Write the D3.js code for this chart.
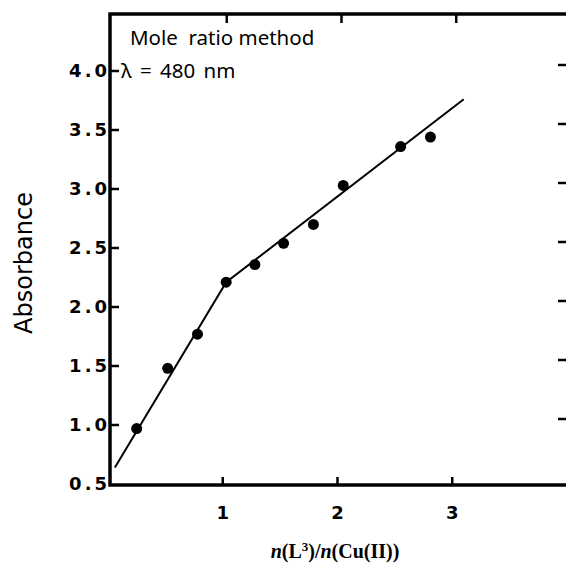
<!DOCTYPE html>
<html>
<head>
<meta charset="utf-8">
<script src="https://cdn.jsdelivr.net/npm/d3@7"></script>
<style>
  body { margin: 0; background: #fff; }
  svg { display: block; }
</style>
</head>
<body>
<svg width="566" height="573"></svg>
<script>
// Measured points (mole ratio vs absorbance)
const ratio = [0.25, 0.52, 0.78, 1.03, 1.28, 1.53, 1.79, 2.05, 2.55, 2.81];
const absorbance = [0.97, 1.48, 1.77, 2.21, 2.36, 2.54, 2.70, 3.03, 3.36, 3.44];

// Two fitted straight lines meeting at the break point
const fitX = [0.06, 1.03, 3.10];
const fitY = [0.64, 2.21, 3.76];

const xTicks = [1, 2, 3];
const yTicks = [0.5, 1.0, 1.5, 2.0, 2.5, 3.0, 3.5, 4.0];

const svg = d3.select("svg");

// plot box edges
const boxL = 110, boxR = 570, boxT = 14, boxB = 485;

const x = d3.scaleLinear().domain([0, 4.0]).range([108, 567]);
const y = d3.scaleLinear().domain([0.5, 4.0]).range([484, 71]);

const tickFont = "'DejaVu Sans', sans-serif";

// frame
svg.append("rect")
    .attr("x", boxL).attr("y", boxT)
    .attr("width", boxR - boxL).attr("height", boxB - boxT)
    .attr("fill", "none")
    .attr("stroke", "#000")
    .attr("stroke-width", 3.5);

// left axis ticks (inward) + labels
const yAxis = svg.append("g");
yAxis.selectAll("line")
    .data(yTicks.filter(d => d > 0.5))
    .enter().append("line")
    .attr("x1", boxL).attr("x2", boxL + 9)
    .attr("y1", d => y(d)).attr("y2", d => y(d))
    .attr("stroke", "#000").attr("stroke-width", 2.5);

yAxis.selectAll("text")
    .data(yTicks)
    .enter().append("text")
    .attr("x", boxL)
    .attr("y", d => y(d))
    .attr("dy", "0.36em")
    .attr("text-anchor", "end")
    .attr("font-family", tickFont)
    .attr("font-weight", "bold")
    .attr("font-size", 18)
    .attr("letter-spacing", 3)
    .text(d => d.toFixed(1));

// right axis ticks (inward)
svg.append("g").selectAll("line")
    .data(yTicks.filter(d => d > 0.5))
    .enter().append("line")
    .attr("x1", 558).attr("x2", boxR)
    .attr("y1", d => y(d) - 6).attr("y2", d => y(d) - 6)
    .attr("stroke", "#000").attr("stroke-width", 2.5);

// bottom ticks + labels
const xAxis = svg.append("g");
xAxis.selectAll("line")
    .data(xTicks)
    .enter().append("line")
    .attr("x1", d => x(d)).attr("x2", d => x(d))
    .attr("y1", boxB).attr("y2", boxB - 8)
    .attr("stroke", "#000").attr("stroke-width", 2.5);

xAxis.selectAll("text")
    .data(xTicks)
    .enter().append("text")
    .attr("x", d => x(d))
    .attr("y", 519)
    .attr("text-anchor", "middle")
    .attr("font-family", tickFont)
    .attr("font-weight", "bold")
    .attr("font-size", 18)
    .text(d => d);

// top ticks (inward)
svg.append("g").selectAll("line")
    .data(xTicks)
    .enter().append("line")
    .attr("x1", d => x(d) + 4).attr("x2", d => x(d) + 4)
    .attr("y1", boxT).attr("y2", boxT + 9)
    .attr("stroke", "#000").attr("stroke-width", 2.5);

// fitted lines
const line = d3.line()
    .x(d => x(d[0]))
    .y(d => y(d[1]));

svg.append("path")
    .datum(d3.zip(fitX, fitY))
    .attr("d", line)
    .attr("fill", "none")
    .attr("stroke", "#000")
    .attr("stroke-width", 2);

// data points
svg.append("g").selectAll("circle")
    .data(d3.zip(ratio, absorbance))
    .enter().append("circle")
    .attr("cx", d => x(d[0]))
    .attr("cy", d => y(d[1]))
    .attr("r", 5.5)
    .attr("fill", "#000");

// annotations
svg.append("text")
    .attr("x", 130).attr("y", 45)
    .attr("font-family", "'Noto Sans', sans-serif")
    .attr("font-size", 20.5)
    .attr("xml:space", "preserve")
    .text("Mole  ratio method");

svg.append("text")
    .attr("x", 121).attr("y", 78)
    .attr("font-family", "'Noto Sans', sans-serif")
    .attr("font-size", 20.5)
    .attr("word-spacing", 3)
    .text("λ = 480 nm");

// y title
svg.append("text")
    .attr("transform", "translate(32,263) rotate(-90)")
    .attr("text-anchor", "middle")
    .attr("font-family", tickFont)
    .attr("font-size", 24)
    .text("Absorbance");

// x title
const xt = svg.append("text")
    .attr("x", 335).attr("y", 558)
    .attr("text-anchor", "middle")
    .attr("font-family", "'Liberation Serif', serif")
    .attr("font-weight", "bold")
    .attr("font-size", 20);
xt.append("tspan").attr("font-style", "italic").text("n");
xt.append("tspan").text("(L");
xt.append("tspan").attr("font-size", 13).attr("dy", -7).text("3");
xt.append("tspan").attr("dy", 7).text(")/");
xt.append("tspan").attr("font-style", "italic").text("n");
xt.append("tspan").text("(Cu(II))");
</script>
</body>
</html>
